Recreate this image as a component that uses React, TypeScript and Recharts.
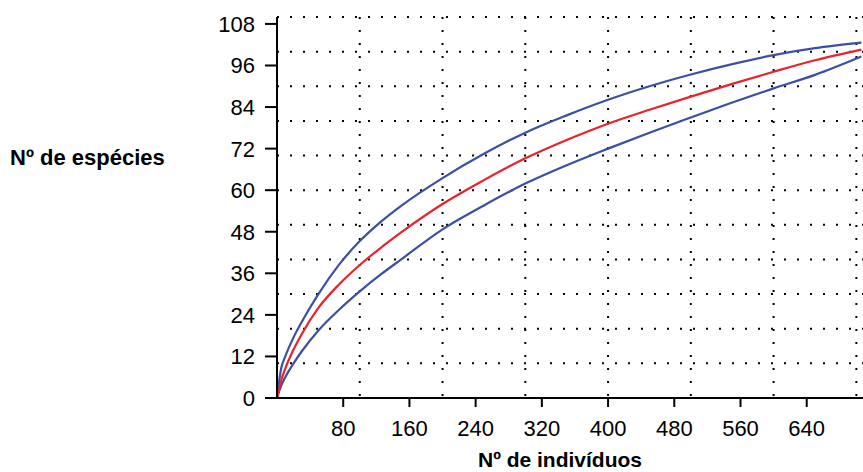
import * as React from 'react';
import { LineChart, Line, CartesianGrid, XAxis, YAxis, Label } from 'recharts';

// rarefaction curve + 95% bounds
const individuals = [0, 5, 10, 20, 30, 50, 75, 100, 125, 150, 200, 250, 300, 350, 400, 450, 500, 550, 600, 650, 706];
const mean = [0, 5, 8.5, 14, 18.5, 26, 32.8, 38.4, 43.3, 47.8, 56, 62.9, 69.2, 74.5, 79.2, 83.2, 87, 90.7, 94.2, 97.5, 100.6];
const upper = [0, 8.5, 12, 17.5, 22, 30, 38.5, 45.3, 50.8, 55.5, 63.5, 70.5, 76.6, 81.6, 86.1, 90, 93.4, 96.4, 99, 101, 102.6];
const lower = [0, 3.5, 6, 10, 13.5, 19.5, 25.5, 30.8, 35.6, 40, 48.7, 55.6, 61.9, 67.2, 72, 76.6, 81, 85.3, 89.4, 93.3, 98.6];

const xTicks = [80, 160, 240, 320, 400, 480, 560, 640];
const yTicks = [0, 12, 24, 36, 48, 60, 72, 84, 96, 108];
const gridX = [100, 200, 300, 400, 500, 600, 700];
const gridY = [10, 20, 30, 40, 50, 60, 70, 80, 90, 100, 110];

const data = individuals.map((n, i) => ({ n, mean: mean[i], upper: upper[i], lower: lower[i] }));

const font = 'Arial, "Liberation Sans", sans-serif';

const XTick = (props) => {
  const { x, y, payload } = props;
  return (
    <text x={x} y={y} dy={16} textAnchor="middle" fontFamily={font} fontSize={22} fill="#000">
      {payload.value}
    </text>
  );
};

const YTick = (props) => {
  const { x, y, payload } = props;
  return (
    <text x={x} y={y} dy={8} textAnchor="end" fontFamily={font} fontSize={22} fill="#000">
      {payload.value}
    </text>
  );
};

const App = () => {
  return (
    <div style={{ position: 'absolute', left: 0, top: 0 }}>
      <LineChart width={863} height={472} data={data}
        margin={{ top: 17, right: 0, left: 0, bottom: 0 }}>
        <CartesianGrid stroke="#000" strokeWidth={2} strokeDasharray="2 11"
          verticalValues={gridX} horizontalValues={gridY} />
        <XAxis dataKey="n" type="number" domain={[0, 708]} ticks={xTicks} allowDataOverflow
          height={74} tickSize={9} tickMargin={13} tick={<XTick />}
          axisLine={{ stroke: '#000', strokeWidth: 2 }} tickLine={{ stroke: '#000', strokeWidth: 2 }}>
          <Label content={() => (
            <text x={560} y={467} textAnchor="middle" fontFamily={font} fontWeight="bold" fontSize={21} fill="#000">
              Nº de indivíduos
            </text>
          )} />
        </XAxis>
        <YAxis type="number" domain={[0, 110]} ticks={yTicks} allowDataOverflow
          width={277} tickSize={12} tickMargin={10} tick={<YTick />}
          axisLine={{ stroke: '#000', strokeWidth: 2 }} tickLine={{ stroke: '#000', strokeWidth: 2 }}>
          <Label content={() => (
            <text x={10} y={165} textAnchor="start" fontFamily={font} fontWeight="bold" fontSize={22} fill="#000">
              Nº de espécies
            </text>
          )} />
        </YAxis>
        <Line type="monotone" dataKey="upper" stroke="#3b4fa3" strokeWidth={2.2} dot={false} isAnimationActive={false} />
        <Line type="monotone" dataKey="lower" stroke="#3b4fa3" strokeWidth={2.2} dot={false} isAnimationActive={false} />
        <Line type="monotone" dataKey="mean" stroke="#e8232b" strokeWidth={2.2} dot={false} isAnimationActive={false} />
      </LineChart>
    </div>
  );
};

export default App;
